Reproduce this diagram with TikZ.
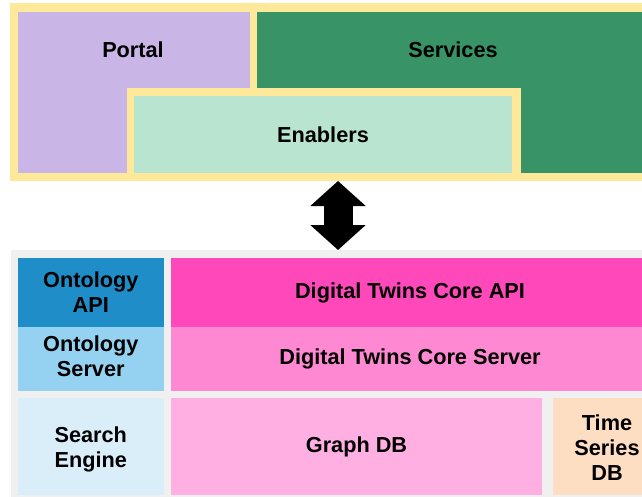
\documentclass[tikz,border=0pt]{standalone}
\usepackage{fontspec}
\setmainfont{Liberation Sans}
\usetikzlibrary{arrows.meta}
\definecolor{frameY}{HTML}{FEE99A}
\definecolor{portalC}{HTML}{CAB6E6}
\definecolor{servC}{HTML}{389367}
\definecolor{enabC}{HTML}{B9E5D0}
\definecolor{panelC}{HTML}{F0F0F0}
\definecolor{ontapiC}{HTML}{1E8DC8}
\definecolor{ontsrvC}{HTML}{95D2F1}
\definecolor{dtapiC}{HTML}{FF48BA}
\definecolor{dtsrvC}{HTML}{FF88D2}
\definecolor{searchC}{HTML}{DAEEFA}
\definecolor{graphC}{HTML}{FFAFE1}
\definecolor{tsC}{HTML}{FDDEC2}
\begin{document}
\begin{tikzpicture}[x=1pt,y=-1pt,
  box/.style={inner sep=0pt, outer sep=0pt, anchor=north west, draw=none,
    font=\fontsize{21.7}{25}\selectfont\bfseries, align=center, text=black},
  lbl/.style={inner sep=0pt, font=\fontsize{21.7}{25}\selectfont\bfseries, align=center, text=black}]
\useasboundingbox (0,0) rectangle (642,497);
\clip (0,0) rectangle (642,497);
% top group
\node[box, fill=frameY, minimum width=650pt, minimum height=177.5pt] (frame) at (10,3.5) {};
\node[box, fill=portalC, minimum width=232pt, minimum height=161pt] (portal) at (18,12) {};
\node[box, fill=servC, minimum width=400pt, minimum height=161pt] (services) at (257,12) {};
\node[box, fill=frameY, minimum width=394pt, minimum height=93pt] (enabframe) at (126.5,88) {};
\node[box, fill=enabC, minimum width=378pt, minimum height=76.5pt] (enablers) at (134,96.5) {Enablers};
\node[lbl] (portallbl) at (133,50) {Portal};
\node[lbl] (serviceslbl) at (453,50) {Services};
% bottom group
\node[box, fill=panelC, minimum width=650pt, minimum height=260pt] (panel) at (10.5,250) {};
\node[box, fill=ontapiC, minimum width=146.5pt, minimum height=69pt] (ontapi) at (17.5,258) {Ontology\\API};
\node[box, fill=ontsrvC, minimum width=146.5pt, minimum height=64pt] (ontsrv) at (17.5,327) {};
\node[lbl] (ontsrvlbl) at ([yshift=3pt]ontsrv.center) {Ontology\\Server};
\node[box, fill=dtapiC, minimum width=478pt, minimum height=69pt] (dtapi) at (171,258) {Digital Twins Core API};
\node[box, fill=dtsrvC, minimum width=478pt, minimum height=64pt] (dtsrv) at (171,327) {Digital Twins Core Server};
\node[box, fill=searchC, minimum width=146.5pt, minimum height=97pt] (search) at (17.5,398) {};
\node[lbl] (searchlbl) at ([yshift=-2.5pt]search.center) {Search\\Engine};
\node[box, fill=graphC, minimum width=371pt, minimum height=97pt] (graph) at (171,398) {Graph DB};
\node[box, fill=tsC, minimum width=108pt, minimum height=97pt] (ts) at (553,398) {};
\node[lbl] (tslbl) at ([yshift=-1.5pt]ts.center) {Time\\Series\\DB};
% double arrow
\draw[line width=29pt, {Triangle[width=54pt,length=25pt]}-{Triangle[width=54pt,length=25pt]}]
  (338,0 |- frame.south) -- (338,0 |- panel.north);
\end{tikzpicture}
\end{document}
